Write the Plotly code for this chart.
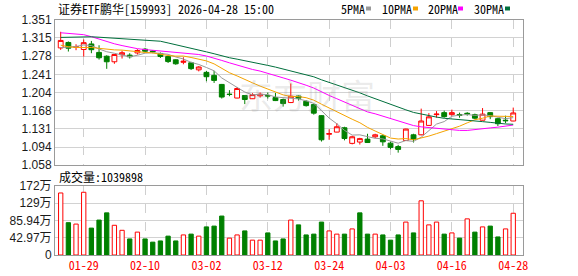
import plotly.graph_objects as go
import pandas as pd

# ---------------- data ----------------
dates = ["2026-01-26", "2026-01-27", "2026-01-28", "2026-01-29", "2026-01-30",
         "2026-02-02", "2026-02-03", "2026-02-04", "2026-02-05", "2026-02-06",
         "2026-02-09", "2026-02-10", "2026-02-11", "2026-02-12", "2026-02-13",
         "2026-02-24", "2026-02-25", "2026-02-26", "2026-02-27", "2026-03-02",
         "2026-03-03", "2026-03-04", "2026-03-05", "2026-03-06", "2026-03-09",
         "2026-03-10", "2026-03-11", "2026-03-12", "2026-03-13", "2026-03-16",
         "2026-03-17", "2026-03-18", "2026-03-19", "2026-03-20", "2026-03-23",
         "2026-03-24", "2026-03-25", "2026-03-26", "2026-03-27", "2026-03-30",
         "2026-03-31", "2026-04-01", "2026-04-02", "2026-04-03", "2026-04-07",
         "2026-04-08", "2026-04-09", "2026-04-10", "2026-04-13", "2026-04-14",
         "2026-04-15", "2026-04-16", "2026-04-17", "2026-04-20", "2026-04-21",
         "2026-04-22", "2026-04-23", "2026-04-24", "2026-04-27", "2026-04-28"]

open_ = [1.2946, 1.3056, 1.2960, 1.2914, 1.3026, 1.2855, 1.2778, 1.2666, 1.2808, 1.2800,
         1.2845, 1.2920, 1.2883, 1.2834, 1.2771, 1.2706, 1.2655, 1.2645, 1.2503, 1.2452,
         1.2391, 1.2208, 1.2012, 1.1933, 1.1984, 1.1919, 1.1978, 1.1984, 1.1943, 1.1903,
         1.1842, 1.1974, 1.1868, 1.1801, 1.1577, 1.1201, 1.1245, 1.1333, 1.1017, 1.1044,
         1.1103, 1.1150, 1.1170, 1.1022, 1.0952, 1.1074, 1.1190, 1.1190, 1.1380, 1.1597,
         1.1638, 1.1597, 1.1601, 1.1625, 1.1597, 1.1485, 1.1638, 1.1516, 1.1485, 1.1469]
high = [1.3272, 1.3077, 1.3020, 1.3117, 1.3087, 1.3000, 1.2798, 1.2818, 1.2889, 1.2839,
        1.2920, 1.2947, 1.2900, 1.2853, 1.2792, 1.2716, 1.2757, 1.2666, 1.2578, 1.2482,
        1.2482, 1.2218, 1.2092, 1.2157, 1.1994, 1.2031, 1.2045, 1.2045, 1.2035, 1.1923,
        1.2228, 1.1984, 1.1888, 1.1821, 1.1587, 1.1302, 1.1428, 1.1353, 1.1170, 1.1129,
        1.1211, 1.1211, 1.1190, 1.1054, 1.0987, 1.1313, 1.1211, 1.1719, 1.1628, 1.1669,
        1.1679, 1.1699, 1.1638, 1.1648, 1.1618, 1.1730, 1.1648, 1.1536, 1.1577, 1.1740]
low = [1.2906, 1.2873, 1.2900, 1.2771, 1.2839, 1.2710, 1.2523, 1.2625, 1.2731, 1.2731,
       1.2812, 1.2859, 1.2839, 1.2743, 1.2641, 1.2605, 1.2615, 1.2499, 1.2472, 1.2273,
       1.2238, 1.1923, 1.1970, 1.1929, 1.1811, 1.1913, 1.1943, 1.1923, 1.1872, 1.1760,
       1.1831, 1.1882, 1.1760, 1.1597, 1.1054, 1.1089, 1.1241, 1.1078, 1.0997, 1.0993,
       1.1028, 1.1119, 1.0967, 1.0899, 1.0830, 1.1068, 1.1034, 1.1180, 1.1374, 1.1536,
       1.1536, 1.1577, 1.1536, 1.1577, 1.1506, 1.1481, 1.1506, 1.1367, 1.1424, 1.1465]
close = [1.3097, 1.2940, 1.2970, 1.3052, 1.2910, 1.2747, 1.2666, 1.2812, 1.2849, 1.2767,
         1.2893, 1.2879, 1.2869, 1.2773, 1.2670, 1.2625, 1.2676, 1.2527, 1.2560, 1.2364,
         1.2289, 1.1953, 1.2005, 1.2126, 1.1903, 1.2004, 1.2010, 1.1974, 1.1882, 1.1821,
         1.1970, 1.1929, 1.1780, 1.1628, 1.1089, 1.1215, 1.1353, 1.1115, 1.1150, 1.1113,
         1.1034, 1.1190, 1.1048, 1.0936, 1.0895, 1.1306, 1.1099, 1.1469, 1.1553, 1.1608,
         1.1557, 1.1638, 1.1581, 1.1612, 1.1526, 1.1608, 1.1557, 1.1414, 1.1475, 1.1632]
# closes of the 29 sessions before the window (needed for the moving averages)
prior_close = [1.285, 1.279, 1.288, 1.296, 1.301, 1.294, 1.303, 1.310, 1.307, 1.307,
               1.310, 1.318, 1.345, 1.372, 1.380, 1.362, 1.368, 1.357, 1.348, 1.343,
               1.325, 1.312, 1.300, 1.296, 1.292, 1.288, 1.291, 1.290, 1.297]
volume = [1545000, 805000, 770000, 1562500, 670000, 870000, 1050000, 740000, 615000, 400000,
          570000, 400000, 320000, 350000, 470000, 350000, 500000, 520000, 470000, 700000,
          720000, 970000, 420000, 500000, 600000, 370000, 370000, 550000, 350000, 400000,
          870000, 750000, 500000, 520000, 820000, 600000, 520000, 520000, 650000, 1050000,
          520000, 520000, 500000, 370000, 500000, 820000, 550000, 1350000, 750000, 820000,
          520000, 550000, 420000, 900000, 570000, 700000, 720000, 450000, 650000, 1039898]

ma_periods = [5, 10, 20, 30]
ma_names = ["5PMA", "10PMA", "20PMA", "30PMA"]
tick_dates = ["2026-01-29", "2026-02-10", "2026-03-02", "2026-03-12",
              "2026-03-24", "2026-04-03", "2026-04-16", "2026-04-28"]
tick_labels = ["01-29", "02-10", "03-02", "03-12", "03-24", "04-03", "04-16", "04-28"]
price_ticks = [1.058, 1.094, 1.131, 1.168, 1.204, 1.241, 1.278, 1.315, 1.351]
vol_ticks = [0, 429700, 859400, 1289100, 1718800]
vol_tick_labels = ["0", "42.97万", "85.94万", "129万", "172万"]
title_text = "证券ETF鹏华[159993] 2026-04-28 15:00"
vol_title = "成交量:" + str(volume[-1])

# ---------------- styles ----------------
RED = "#ff0000"
GREEN = "#008000"
MA_COLORS = ["#999999", "#f5a300", "#ff00ff", "#006f3c"]
MONO = "Noto Sans Mono CJK SC, Noto Sans CJK SC, monospace"
SANS = "Liberation Sans, Arial, Noto Sans CJK SC, sans-serif"

W, H = 578, 276
L, R, T, B = 55, 55, 20, 21
pw, ph = W - L - R, H - T - B


def px(x):
    return (x - L) / pw


def py(y):
    return (H - B - y) / ph


slot = 7.67
first_px = 60.7
x_range = [(L - first_px) / slot, (W - R - first_px) / slot]

# ---------------- derived ----------------
all_close = pd.Series(prior_close + close)
ma = {p: all_close.rolling(p).mean().iloc[len(prior_close):].tolist() for p in ma_periods}

prev = [open_[0]] + close[:-1]
vol_up = [c >= p for c, p in zip(close, prev)]
bar_fill = ["white" if u else GREEN for u in vol_up]
bar_line = [RED if u else GREEN for u in vol_up]

fig = go.Figure()

fig.add_trace(go.Candlestick(
    x=dates, open=open_, high=high, low=low, close=close,
    increasing=dict(line=dict(color=RED, width=1), fillcolor="white"),
    decreasing=dict(line=dict(color=GREEN, width=1), fillcolor=GREEN),
    whiskerwidth=0, xaxis="x", yaxis="y", showlegend=False, hoverinfo="skip"))

for p, name, col in zip(ma_periods, ma_names, MA_COLORS):
    fig.add_trace(go.Scatter(x=dates, y=ma[p], mode="lines", name=name,
                             line=dict(color=col, width=1), xaxis="x", yaxis="y",
                             showlegend=False, hoverinfo="skip"))

fig.add_trace(go.Bar(x=dates, y=volume, width=0.56,
                     marker=dict(color=bar_fill, line=dict(color=bar_line, width=1)),
                     xaxis="x2", yaxis="y2", showlegend=False, hoverinfo="skip"))

axis_common = dict(showline=True, mirror=True, linecolor="#9a9a9a", linewidth=1,
                   zeroline=False, fixedrange=True, automargin=False)

fig.update_layout(
    width=W, height=H,
    margin=dict(l=L, r=R, t=T, b=B, pad=0, autoexpand=False),
    paper_bgcolor="white", plot_bgcolor="white",
    boxgap=0.1, boxgroupgap=0.3,
    bargap=0,
    xaxis=dict(domain=[0, 1], anchor="y", type="category", categoryorder="array",
               categoryarray=dates, range=x_range, rangeslider=dict(visible=False),
               tickmode="array", tickvals=tick_dates, ticktext=tick_labels,
               showticklabels=False, ticks="",
               showgrid=True, gridcolor="#cfcfcf", griddash="dash", gridwidth=1,
               **axis_common),
    yaxis=dict(domain=[py(165), 1], anchor="x", range=[price_ticks[0], price_ticks[-1]],
               tickmode="array", tickvals=price_ticks,
               ticktext=[f"{v:.3f}" for v in price_ticks],
               ticks="", showgrid=True, gridcolor="#d2d2d2", gridwidth=1,
               tickfont=dict(family=SANS, size=12, color="#1a1a1a"),
               **axis_common),
    xaxis2=dict(domain=[0, 1], anchor="y2", type="category", categoryorder="array",
                categoryarray=dates, range=x_range, matches="x",
                tickmode="array", tickvals=tick_dates, ticktext=tick_labels,
                ticks="", tickfont=dict(family=MONO, size=12, color=RED),
                showgrid=True, gridcolor="#cfcfcf", griddash="dash", gridwidth=1,
                **axis_common),
    yaxis2=dict(domain=[0, py(186)], anchor="x2", range=[vol_ticks[0], vol_ticks[-1]],
                tickmode="array", tickvals=vol_ticks, ticktext=vol_tick_labels,
                ticks="", showgrid=True, gridcolor="#d2d2d2", gridwidth=1,
                tickfont=dict(family=SANS, size=12, color="#1a1a1a"),
                **axis_common),
)

annotations = [
    dict(text=title_text, x=px(56), y=py(8.5), xref="paper", yref="paper",
         xanchor="left", yanchor="middle", showarrow=False,
         font=dict(family=MONO, size=12, color="#000")),
    dict(text=vol_title, x=px(57), y=py(176.5), xref="paper", yref="paper",
         xanchor="left", yanchor="middle", showarrow=False,
         font=dict(family=MONO, size=12, color="#000")),
    dict(text="东方财富", x=px(307), y=py(94), xref="paper", yref="paper",
         xanchor="center", yanchor="middle", showarrow=False,
         font=dict(family="Noto Sans CJK SC", size=34, color="rgba(150,150,150,0.2)")),
]
legend_text_px = [339, 380, 426, 472]
legend_sq_px = [366, 413, 458, 505]
shapes = []
for name, col, tx, sx in zip(ma_names, MA_COLORS, legend_text_px, legend_sq_px):
    annotations.append(dict(text=name, x=px(tx), y=py(8.5), xref="paper", yref="paper",
                            xanchor="left", yanchor="middle", showarrow=False,
                            font=dict(family=MONO, size=12, color="#000")))
    shapes.append(dict(type="rect", xref="paper", yref="paper",
                       x0=px(sx), x1=px(sx + 5), y0=py(10.5), y1=py(6.5),
                       fillcolor=col, line=dict(width=0)))
fig.update_layout(annotations=annotations, shapes=shapes)

fig.write_html("out.html", config={"displayModeBar": False, "staticPlot": True})
